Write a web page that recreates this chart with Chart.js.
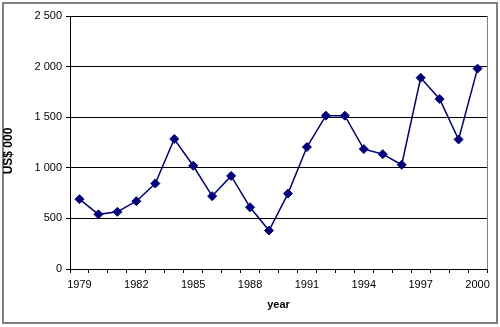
<!DOCTYPE html>
<html>
<head>
<meta charset="utf-8">
<script src="https://cdn.jsdelivr.net/npm/chart.js@4/dist/chart.umd.min.js"></script>
<style>
  html, body { margin: 0; padding: 0; background: #fff; }
  #wrap { width: 500px; height: 327px; }
</style>
</head>
<body>
<div id="wrap"><canvas id="exportChart" width="500" height="327"></canvas></div>
<script>
// yearly values, US$ 000
const years = [1979, 1980, 1981, 1982, 1983, 1984, 1985, 1986, 1987, 1988, 1989,
  1990, 1991, 1992, 1993, 1994, 1995, 1996, 1997, 1998, 1999, 2000];
const values = [690, 540, 565, 670, 845, 1285, 1020, 720, 920, 610, 380,
  745, 1205, 1515, 1515, 1185, 1135, 1030, 1890, 1680, 1280, 1980];
const yTicks = [0, 500, 1000, 1500, 2000, 2500];

const fontFamily = "'Liberation Sans', Arial, sans-serif";

// gray frame around the whole chart, plot area's right edge, and the y title
// (the title sits a bit below the plot's middle, so it is drawn here)
const framePlugin = {
  id: "frame",
  afterDraw(chart) {
    const ctx = chart.ctx;
    const a = chart.chartArea;
    ctx.save();
    ctx.strokeStyle = "#808080";
    ctx.lineWidth = 2;
    ctx.strokeRect(3, 3, 494, 320);
    ctx.lineWidth = 1;
    ctx.beginPath();
    ctx.moveTo(Math.round(a.right) + 0.5, a.top);
    ctx.lineTo(Math.round(a.right) + 0.5, a.bottom);
    ctx.stroke();

    ctx.translate(9, 151);
    ctx.rotate(-Math.PI / 2);
    ctx.fillStyle = "#000";
    ctx.font = "bold 12px " + fontFamily;
    ctx.textAlign = "center";
    ctx.textBaseline = "middle";
    ctx.fillText("US$ 000", 0, 0);
    ctx.restore();
  }
};

const ctx = document.getElementById("exportChart").getContext("2d");
new Chart(ctx, {
  type: "line",
  data: {
    labels: years,
    datasets: [{
      data: values,
      borderColor: "#000080",
      backgroundColor: "#000080",
      borderWidth: 1.5,
      pointStyle: "rectRot",
      pointRadius: 4.5,
      pointBorderWidth: 1,
      tension: 0
    }]
  },
  options: {
    responsive: false,
    animation: false,
    layout: { padding: { left: 0, top: 16, right: 13, bottom: 0 } },
    plugins: { legend: { display: false }, tooltip: { enabled: false } },
    scales: {
      x: {
        type: "category",
        offset: true,
        afterFit: scale => { scale.height = 58; },
        grid: {
          offset: true,
          drawOnChartArea: false,
          drawTicks: true,
          tickLength: 4,
          color: "#000"
        },
        border: { color: "#000", width: 1 },
        ticks: {
          autoSkip: false,
          maxRotation: 0,
          padding: 5,
          color: "#000",
          font: { family: fontFamily, size: 11 },
          callback: (v, i) => (i % 3 === 0 ? years[i] : "")
        },
        title: {
          display: true,
          text: "year",
          color: "#000",
          font: { family: fontFamily, size: 11, weight: "bold" },
          padding: { top: 4, bottom: 15 }
        }
      },
      y: {
        min: yTicks[0],
        max: yTicks[yTicks.length - 1],
        afterFit: scale => { scale.width = 70; },
        afterBuildTicks: scale => { scale.ticks = yTicks.map(v => ({ value: v })); },
        grid: {
          color: "#000",
          lineWidth: 1,
          tickLength: 4
        },
        border: { color: "#000", width: 1 },
        ticks: {
          padding: 4,
          color: "#000",
          font: { family: fontFamily, size: 11 },
          callback: v => String(v).replace(/\B(?=(\d{3})+(?!\d))/g, " ")
        }
      }
    }
  },
  plugins: [framePlugin]
});
</script>
</body>
</html>
